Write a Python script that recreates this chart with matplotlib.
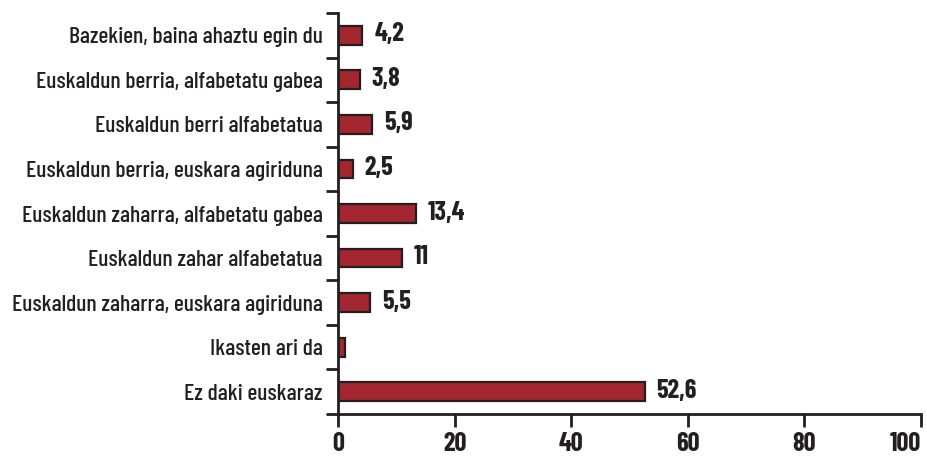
import numpy as np
import matplotlib.pyplot as plt
from matplotlib.ticker import FixedLocator

categories = ["Bazekien, baina ahaztu egin du",
              "Euskaldun berria, alfabetatu gabea",
              "Euskaldun berri alfabetatua",
              "Euskaldun berria, euskara agiriduna",
              "Euskaldun zaharra, alfabetatu gabea",
              "Euskaldun zahar alfabetatua",
              "Euskaldun zaharra, euskara agiriduna",
              "Ikasten ari da",
              "Ez daki euskaraz"]
values = [4.2, 3.8, 5.9, 2.5, 13.4, 11, 5.5, 1.2, 52.6]
value_labels = ["4,2", "3,8", "5,9", "2,5", "13,4", "11", "5,5", "", "52,6"]
xticks = [0, 20, 40, 60, 80, 100]

plt.rcParams['font.family'] = ['Barlow Condensed', 'DejaVu Sans']
ink = '#231f20'

fig = plt.figure(figsize=(9.27, 4.59), dpi=100)
ax = fig.add_axes([338 / 927, 45 / 459, 583 / 927, 401 / 459])

n = len(categories)
y = np.arange(n)[::-1]
ax.barh(y, values, height=0.42, color='#a4262f', edgecolor=ink, linewidth=1.6)

for yi, v, lab in zip(y, values, value_labels):
    if lab:
        ax.text(v + 2, yi + 0.02, lab, va='center', ha='left',
                fontsize=19, fontweight='bold', color=ink)

ax.set_xlim(0, 100)
ax.set_ylim(-0.5, n - 0.5)
ax.set_xticks(xticks)
ax.set_xticklabels([str(t) for t in xticks], fontsize=19, fontweight='bold', color=ink)
ax.get_xticklabels()[-1].set_horizontalalignment('right')
ax.set_yticks(y)
ax.set_yticklabels(categories, fontsize=17, fontweight='medium', color=ink)
ax.yaxis.set_minor_locator(FixedLocator(np.arange(n + 1) - 0.5))
ax.tick_params(axis='y', which='major', length=0, pad=11)
ax.tick_params(axis='y', which='minor', length=9, width=2, direction='out', color=ink)
ax.tick_params(axis='x', length=9, width=2, direction='out', pad=4, color=ink)

for s in ['top', 'right']:
    ax.spines[s].set_visible(False)
for s in ['left', 'bottom']:
    ax.spines[s].set_linewidth(2)
    ax.spines[s].set_color(ink)

fig.savefig('out.png', dpi=100)
